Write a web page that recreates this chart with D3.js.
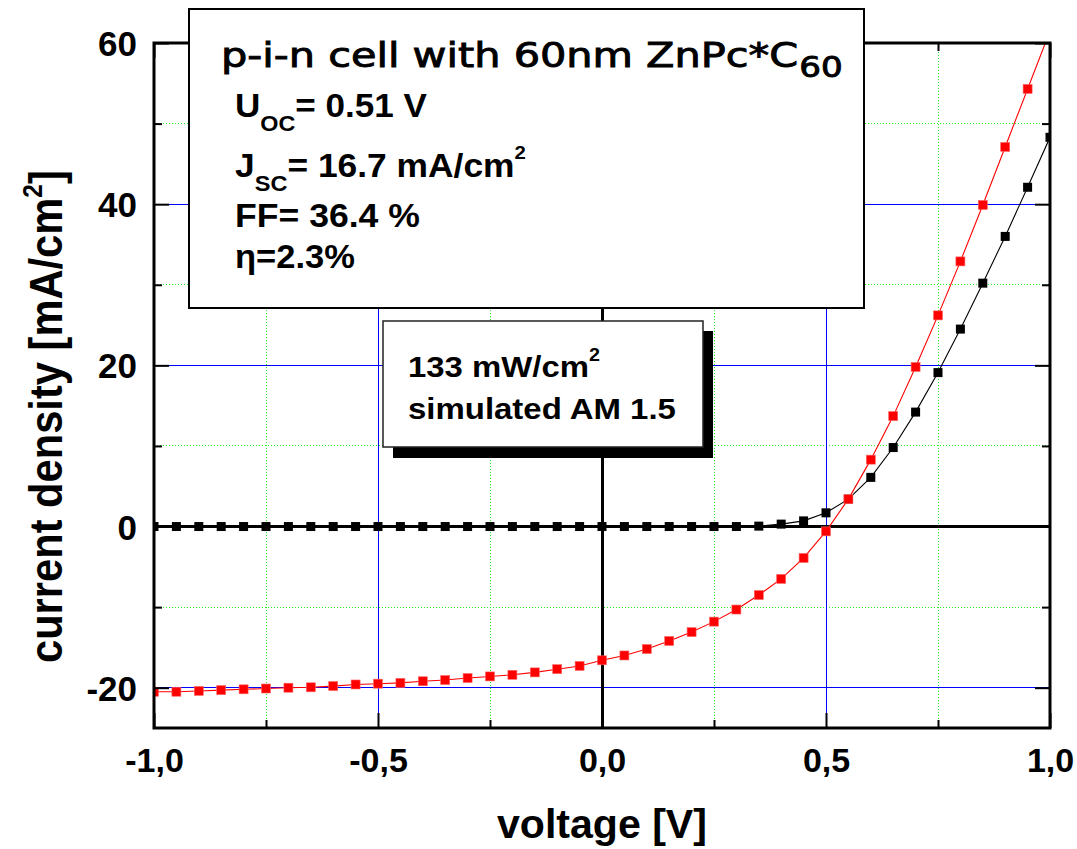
<!DOCTYPE html>
<html>
<head>
<meta charset="utf-8">
<script src="https://cdn.jsdelivr.net/npm/d3@7"></script>
<style>
  html, body { margin: 0; padding: 0; background: #fff; }
  svg { display: block; }
</style>
</head>
<body>
<svg id="chart" width="1077" height="849"></svg>
<script>
// ---------------- data ----------------
const voltage = [-1.00,-0.95,-0.90,-0.85,-0.80,-0.75,-0.70,-0.65,-0.60,-0.55,-0.50,-0.45,-0.40,-0.35,-0.30,-0.25,-0.20,-0.15,-0.10,-0.05,
                 0.00,0.05,0.10,0.15,0.20,0.25,0.30,0.35,0.40,0.45,0.50,0.55,0.60,0.65,0.70,0.75,0.80,0.85,0.90,0.95,1.00];
const darkCurrent = [0,0,0,0,0,0,0,0,0,0,0,0,0,0,0,0,0,0,0,0,
                     0,0,0,0,0,0,0,0.05,0.3,0.7,1.7,3.4,6.1,9.8,14.2,19.1,24.5,30.2,36.0,42.1,48.3];
const lightCurrent = [-20.5,-20.5,-20.4,-20.3,-20.2,-20.1,-20.0,-19.95,-19.8,-19.6,-19.5,-19.4,-19.2,-19.05,-18.8,-18.6,-18.4,-18.1,-17.7,-17.3,
                      -16.6,-16.0,-15.2,-14.2,-13.1,-11.8,-10.3,-8.5,-6.5,-3.9,-0.6,3.4,8.3,13.7,19.8,26.2,32.9,39.9,47.1,54.3,61.5];
const xMajorTicks = [-1, -0.5, 0, 0.5, 1];
const xMinorTicks = [-0.75, -0.25, 0.25, 0.75];
const xTickLabels = ["-1,0", "-0,5", "0,0", "0,5", "1,0"];
const yMajorTicks = [-20, 0, 20, 40, 60];
const yMinorTicks = [-10, 10, 30, 50];
const yTickLabels = ["-20", "0", "20", "40", "60"];
const xDomain = [-1, 1];
const yDomain = [-25, 60];
const xTitle = "voltage [V]";
const yTitle = "current density [mA/cm";
const titleText = "p-i-n cell with 60nm ZnPc*C";
const titleSub = "60";
const paramLines = [
  {main: "U", sub: "OC", rest: "= 0.51 V", sup: ""},
  {main: "J", sub: "SC", rest: "= 16.7 mA/cm", sup: "2"},
  {main: "FF= 36.4 %", sub: "", rest: "", sup: ""},
  {main: "\u03B7=2.3%", sub: "", rest: "", sup: ""}
];
const illumLines = [
  {main: "133 mW/cm", sup: "2"},
  {main: "simulated AM 1.5", sup: ""}
];

// ---------------- layout ----------------
const W = 1077, H = 849;
const margin = {left: 154, right: 27, top: 43, bottom: 121};
const svg = d3.select("#chart");
const x = d3.scaleLinear().domain(xDomain).range([margin.left, W - margin.right]);
const y = d3.scaleLinear().domain(yDomain).range([H - margin.bottom, margin.top]);
const x0 = x.range()[0], x1 = x.range()[1], y0 = y.range()[0], y1 = y.range()[1];
const LAB = "'Liberation Sans', Arial, Helvetica, sans-serif";

svg.append("defs").append("clipPath").attr("id", "plotclip")
  .append("rect").attr("x", x0).attr("y", y1).attr("width", x1 - x0).attr("height", y0 - y1);

// grid
const grid = svg.append("g").attr("shape-rendering", "crispEdges");
grid.selectAll(".gxmin").data(xMinorTicks).join("line")
  .attr("x1", d => x(d)).attr("x2", d => x(d)).attr("y1", y0).attr("y2", y1)
  .attr("stroke", "#22ee22").attr("stroke-width", 1).attr("stroke-dasharray", "1,2");
grid.selectAll(".gymin").data(yMinorTicks).join("line")
  .attr("y1", d => y(d)).attr("y2", d => y(d)).attr("x1", x0).attr("x2", x1)
  .attr("stroke", "#22ee22").attr("stroke-width", 1).attr("stroke-dasharray", "1,2");
grid.selectAll(".gxmaj").data(xMajorTicks.filter(d => d !== 0 && d !== xDomain[0] && d !== xDomain[1])).join("line")
  .attr("x1", d => x(d)).attr("x2", d => x(d)).attr("y1", y0).attr("y2", y1)
  .attr("stroke", "#0000ff").attr("stroke-width", 1);
grid.selectAll(".gymaj").data(yMajorTicks.filter(d => d !== 0 && d !== yDomain[1])).join("line")
  .attr("y1", d => y(d)).attr("y2", d => y(d)).attr("x1", x0).attr("x2", x1)
  .attr("stroke", "#0000ff").attr("stroke-width", 1);
// zero lines
grid.append("line").attr("x1", x(0)).attr("x2", x(0)).attr("y1", y0).attr("y2", y1)
  .attr("stroke", "#000").attr("stroke-width", 3);
grid.append("line").attr("y1", y(0)).attr("y2", y(0)).attr("x1", x0).attr("x2", x1)
  .attr("stroke", "#000").attr("stroke-width", 3);

// data
const plot = svg.append("g").attr("clip-path", "url(#plotclip)");
const line = d3.line().x(d => x(d[0])).y(d => y(d[1]));
const darkPts = voltage.map((v, i) => [v, darkCurrent[i]]);
const lightPts = voltage.map((v, i) => [v, lightCurrent[i]]);
const ms = 9;
plot.append("path").datum(darkPts).attr("d", line).attr("fill", "none").attr("stroke", "#000").attr("stroke-width", 1.1);
plot.append("path").datum(lightPts).attr("d", line).attr("fill", "none").attr("stroke", "#ff0000").attr("stroke-width", 1.1);
plot.selectAll(".dk").data(darkPts).join("rect")
  .attr("x", d => x(d[0]) - ms / 2).attr("y", d => y(d[1]) - ms / 2)
  .attr("width", ms).attr("height", ms).attr("fill", "#000");
plot.selectAll(".lt").data(lightPts).join("rect")
  .attr("x", d => x(d[0]) - ms / 2).attr("y", d => y(d[1]) - ms / 2)
  .attr("width", ms).attr("height", ms).attr("fill", "#ff0000").attr("stroke", "#ff6666").attr("stroke-width", 0.6);

// frame
svg.append("rect").attr("x", x0).attr("y", y1).attr("width", x1 - x0).attr("height", y0 - y1)
  .attr("fill", "none").attr("stroke", "#000").attr("stroke-width", 3);

// axes (ticks pointing inward)
function styleAxis(g) {
  g.select(".domain").remove();
  g.selectAll(".tick line").attr("stroke", "#000").attr("stroke-width", 2);
}
const fmtX = (d) => xTickLabels[xMajorTicks.indexOf(d)];
const fmtY = (d) => yTickLabels[yMajorTicks.indexOf(d)];

const bottomAxis = svg.append("g").attr("transform", `translate(0,${y0})`)
  .call(d3.axisBottom(x).tickValues(xMajorTicks).tickSize(-15).tickPadding(0).tickFormat(fmtX)).call(styleAxis);
bottomAxis.selectAll(".tick text").attr("y", 44).attr("dy", 0)
  .attr("font-family", LAB).attr("font-weight", "bold").attr("font-size", 34).attr("fill", "#000");
svg.append("g").attr("transform", `translate(0,${y0})`)
  .call(d3.axisBottom(x).tickValues(xMinorTicks).tickSize(-8).tickFormat("")).call(styleAxis);
svg.append("g").attr("transform", `translate(0,${y1})`)
  .call(d3.axisTop(x).tickValues(xMajorTicks).tickSize(-15).tickFormat("")).call(styleAxis);
svg.append("g").attr("transform", `translate(0,${y1})`)
  .call(d3.axisTop(x).tickValues(xMinorTicks).tickSize(-8).tickFormat("")).call(styleAxis);

const leftAxis = svg.append("g").attr("transform", `translate(${x0},0)`)
  .call(d3.axisLeft(y).tickValues(yMajorTicks).tickSize(-15).tickPadding(0).tickFormat(fmtY)).call(styleAxis);
leftAxis.selectAll(".tick text").attr("x", -17).attr("dy", "0.36em")
  .attr("font-family", LAB).attr("font-weight", "bold").attr("font-size", 35).attr("fill", "#000");
svg.append("g").attr("transform", `translate(${x0},0)`)
  .call(d3.axisLeft(y).tickValues(yMinorTicks).tickSize(-8).tickFormat("")).call(styleAxis);
svg.append("g").attr("transform", `translate(${x1},0)`)
  .call(d3.axisRight(y).tickValues(yMajorTicks).tickSize(-15).tickFormat("")).call(styleAxis);
svg.append("g").attr("transform", `translate(${x1},0)`)
  .call(d3.axisRight(y).tickValues(yMinorTicks).tickSize(-8).tickFormat("")).call(styleAxis);

// helper: stretch text horizontally to a target width
function fit(g, txt, target) {
  const w = txt.node().getBBox().width;
  const sx = target / w;
  const t = g.attr("transform") || "";
  g.attr("transform", t + ` scale(${sx},1)`);
}

// axis titles
{
  const g = svg.append("g").attr("transform", `translate(497,838)`);
  const t = g.append("text").attr("font-family", LAB).attr("font-weight", "bold").attr("font-size", 40).text(xTitle);
  fit(g, t, 210);
}
{
  const g = svg.append("g").attr("transform", `translate(62,663) rotate(-90)`);
  const t = g.append("text").attr("font-family", LAB).attr("font-weight", "bold").attr("font-size", 46);
  t.append("tspan").text(yTitle);
  t.append("tspan").attr("font-size", 27).attr("dy", -20).text("2");
  t.append("tspan").attr("dy", 20).text("]");
  fit(g, t, 493);
}

// title box
svg.append("rect").attr("x", 189).attr("y", 9).attr("width", 675).attr("height", 299)
  .attr("fill", "#fff").attr("stroke", "#000").attr("stroke-width", 2);
{
  const g = svg.append("g").attr("transform", `translate(221,67)`);
  const t = g.append("text").attr("font-family", "'DejaVu Sans', sans-serif").attr("font-size", 34)
    .attr("fill", "#000").attr("stroke", "#000").attr("stroke-width", 0.9);
  t.append("tspan").text(titleText);
  t.append("tspan").attr("font-size", 28).attr("dx", 1).attr("dy", 10).text(titleSub);
  fit(g, t, 622);
}
const paramBaselines = [117, 177, 227, 268];
const paramWidths = [192, 291, 185, 120];
paramLines.forEach((p, i) => {
  const g = svg.append("g").attr("transform", `translate(235,${paramBaselines[i]})`);
  const t = g.append("text").attr("font-family", LAB).attr("font-weight", "bold").attr("font-size", 33);
  t.append("tspan").text(p.main);
  if (p.sub) t.append("tspan").attr("font-size", 22).attr("dy", 14).text(p.sub);
  if (p.rest) t.append("tspan").attr("dy", p.sub ? -14 : 0).text(p.rest);
  if (p.sup) t.append("tspan").attr("font-size", 19).attr("dy", -18).text(p.sup);
  fit(g, t, paramWidths[i]);
});

// illumination box with shadow
svg.append("rect").attr("x", 393).attr("y", 331).attr("width", 320).attr("height", 127).attr("fill", "#000");
svg.append("rect").attr("x", 383).attr("y", 321).attr("width", 320).attr("height", 126)
  .attr("fill", "#fff").attr("stroke", "#222").attr("stroke-width", 1.5);
const illumBaselines = [377, 419];
const illumWidths = [192, 268];
illumLines.forEach((p, i) => {
  const g = svg.append("g").attr("transform", `translate(408,${illumBaselines[i]})`);
  const t = g.append("text").attr("font-family", LAB).attr("font-weight", "bold").attr("font-size", 30);
  t.append("tspan").text(p.main);
  if (p.sup) t.append("tspan").attr("font-size", 18).attr("dy", -16).text(p.sup);
  fit(g, t, illumWidths[i]);
});
</script>
</body>
</html>
